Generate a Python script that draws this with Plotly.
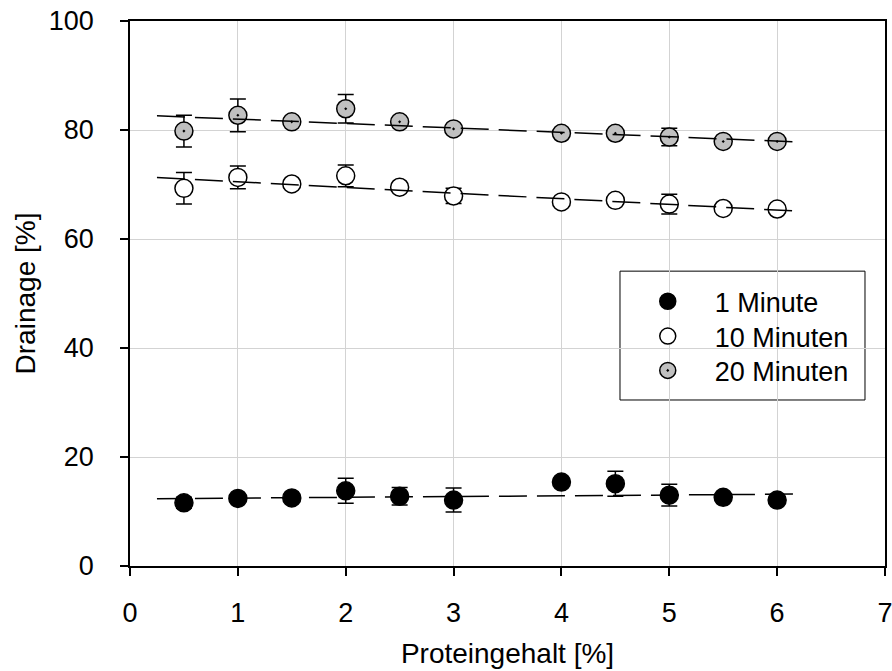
import plotly.graph_objects as go

# ---- data ----
protein = [0.5, 1, 1.5, 2, 2.5, 3, 4, 4.5, 5, 5.5, 6]

min1 = [11.6, 12.4, 12.5, 13.8, 12.8, 12.1, 15.4, 15.1, 13.0, 12.6, 12.1]
min1_err = [1.0, 0.0, 0.0, 2.3, 1.6, 2.2, 0.0, 2.3, 2.0, 0.0, 0.0]

min10 = [69.3, 71.3, 70.1, 71.6, 69.5, 67.9, 66.8, 67.1, 66.4, 65.6, 65.5]
min10_err = [2.9, 2.1, 0.0, 2.0, 0.0, 1.4, 0.0, 0.0, 1.8, 0.0, 0.0]

min20 = [79.8, 82.7, 81.5, 83.9, 81.5, 80.2, 79.4, 79.4, 78.7, 77.9, 77.9]
min20_err = [2.9, 3.0, 0.6, 2.6, 0.5, 0.0, 0.0, 0.0, 1.6, 0.0, 0.0]

# regression lines (end points)
fit_x = [0.25, 6.2]
fit1 = [12.35, 13.2]
fit10 = [71.3, 65.1]
fit20 = [82.6, 77.8]

x_ticks = [0, 1, 2, 3, 4, 5, 6, 7]
y_ticks = [0, 20, 40, 60, 80, 100]

FONT = "Liberation Sans, Arial, sans-serif"

fig = go.Figure()

def series(name, y, err, fill, symbol, legend):
    fig.add_trace(go.Scatter(
        x=protein, y=y, mode="markers", name=name, legend=legend,
        marker=dict(size=18, color=fill, symbol=symbol,
                    line=dict(color="black", width=1.5)),
        error_y=dict(type="data", array=err, visible=True, color="black",
                     thickness=1.5, width=8),
    ))

series("1 Minute", min1, min1_err, "black", "circle", "legend")
series("10 Minuten", min10, min10_err, "white", "circle", "legend2")
series("20 Minuten", min20, min20_err, "#c0c0c0", "circle-dot", "legend3")

for fy in (fit1, fit10, fit20):
    fig.add_trace(go.Scatter(
        x=fit_x, y=fy, mode="lines", showlegend=False, hoverinfo="skip",
        line=dict(color="black", width=1.5, dash="28px,10px"),
    ))

axis_common = dict(
    showline=True, linecolor="black", linewidth=1.5, mirror=True,
    ticks="outside", ticklen=8, tickwidth=1.5, tickcolor="black",
    showgrid=True, gridcolor="#d3d3d3", gridwidth=1,
    zeroline=False, automargin=False, ticklabeloverflow="allow",
    tickfont=dict(size=27, color="black", family=FONT),
)

legend_common = dict(
    x=0.650, xanchor="left", yanchor="top",
    bgcolor="rgba(255,255,255,0)", borderwidth=0,
    font=dict(size=27, family=FONT, color="black"), itemwidth=84,
)

fig.update_layout(
    width=892, height=671,
    margin=dict(l=130, r=7, t=21, b=105, autoexpand=False),
    paper_bgcolor="white", plot_bgcolor="white",
    font=dict(family=FONT, color="black", size=27),
    xaxis=dict(range=[0, 7], tickvals=x_ticks, ticklabelstandoff=14,
               title=dict(text="Proteingehalt [%]", font=dict(size=28), standoff=16),
               **axis_common),
    yaxis=dict(range=[0, 100], tickvals=y_ticks, ticklabelstandoff=21,
               title=dict(text="Drainage [%]", font=dict(size=28), standoff=5),
               **axis_common),
    legend=dict(y=0.530, **legend_common),
    legend2=dict(y=0.466, **legend_common),
    legend3=dict(y=0.403, **legend_common),
    shapes=[dict(type="rect", xref="paper", yref="paper",
                 x0=0.649, x1=0.9735, y0=0.3046, y1=0.541,
                 line=dict(color="black", width=1), fillcolor="white", layer="below")],
)

fig.write_html(
    "out.html",
    config={"displayModeBar": False},
    post_script="document.body.style.margin='0';document.body.style.overflow='hidden';",
)
